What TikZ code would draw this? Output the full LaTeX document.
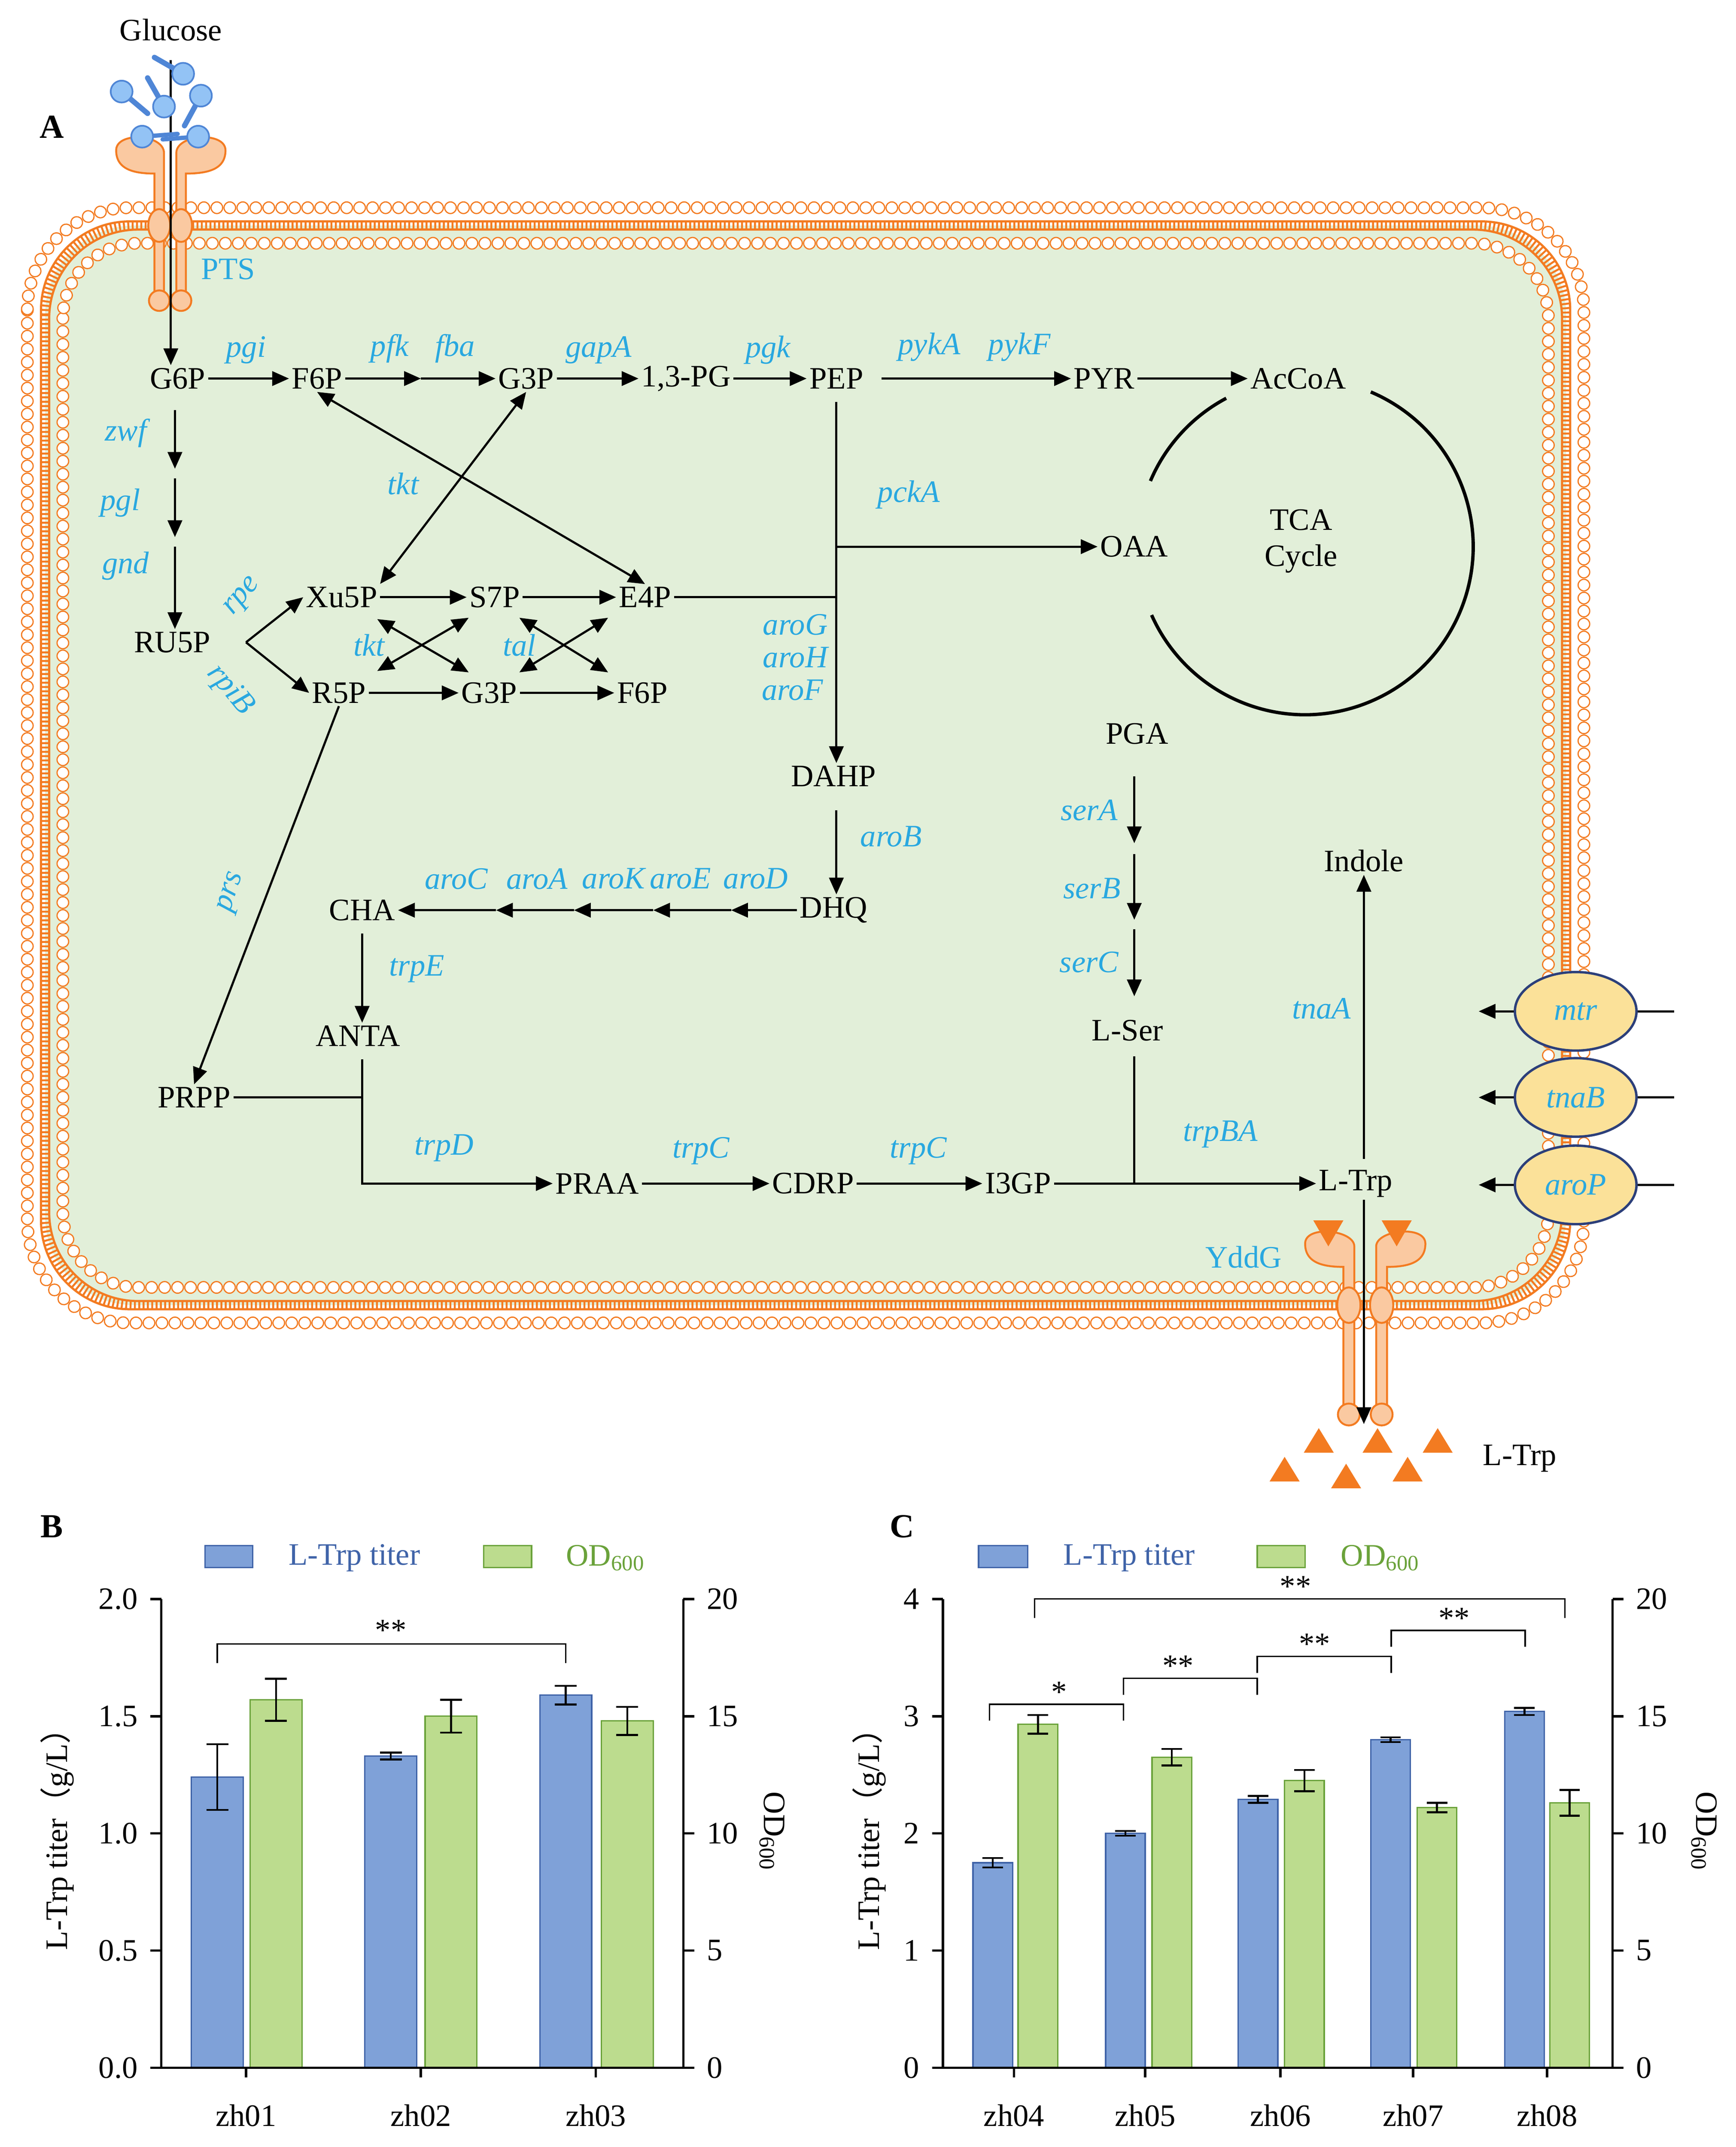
\documentclass[tikz,border=0pt]{standalone}
\usepackage{fontspec}
\setmainfont{Liberation Serif}
\newfontfamily\cjk{Noto Sans CJK SC}
\usetikzlibrary{arrows.meta,decorations.markings,shapes.geometric}
\definecolor{gb}{HTML}{29A8E0}
\definecolor{org}{HTML}{F37B21}
\definecolor{pill}{HTML}{FAC9A1}
\definecolor{cellg}{HTML}{E2EFD9}
\definecolor{barb}{HTML}{7FA1D8}
\definecolor{barbo}{HTML}{3F63A8}
\definecolor{barg}{HTML}{BCDC8E}
\definecolor{bargo}{HTML}{6AA23A}
\definecolor{ell}{HTML}{FBE199}
\definecolor{elo}{HTML}{2C3F7A}
\definecolor{glc}{HTML}{93C3F5}
\definecolor{glco}{HTML}{4F86D6}
\begin{document}
\begin{tikzpicture}[x=0.02cm,y=-0.02cm,font=\fontsize{13}{15}\selectfont,
  m/.style={inner sep=1pt},
  e/.style={text=gb,font=\fontsize{13}{15}\selectfont\itshape,inner sep=1pt},
  ar/.style={-{Triangle[length=7pt,width=6pt]},line width=0.9pt},
  dar/.style={{Triangle[length=7pt,width=6pt]}-{Triangle[length=7pt,width=6pt]},line width=0.9pt},
  ln/.style={line width=0.9pt},
  beads/.style={decorate,decoration={markings,mark=between positions 0 and 1 step 0.19cm with {\draw[org,fill=white,line width=0.5pt] (0,0) circle[radius=0.085cm];}}},
  pl/.style={draw=org,fill=pill,line width=0.8pt},
  bB/.style={fill=barb,draw=barbo,line width=0.6pt},
  bG/.style={fill=barg,draw=bargo,line width=0.6pt},
  eb/.style={line width=0.8pt},
  ax/.style={line width=1pt},
  gs/.style={draw=glco,line width=2.2pt,line cap=round},
  gc/.style={draw=glco,fill=glc,line width=0.7pt}]
\useasboundingbox (0,0) rectangle (1270,1571);
% ===== membrane =====
\fill[cellg,rounded corners=1.3cm] (33,165) rectangle (1146,955);
\draw[org,line width=0.14cm,dash pattern=on 0.8pt off 1.0pt,rounded corners=1.3cm] (33,165) rectangle (1146,955);
\draw[org,line width=0.9pt,rounded corners=1.3cm] (30,162) rectangle (1149,958);
\draw[org,line width=0.9pt,rounded corners=1.3cm] (36,168) rectangle (1143,952);
\path[beads,rounded corners=1.5cm] (20,152) rectangle (1159,968);
\path[beads,rounded corners=1.1cm] (46,178) rectangle (1133,942);
% ===== PTS transporter =====
\draw[pl] (120,222) -- (120,112) .. controls (120,98) and (85,96) .. (85,110) .. controls (85,124) and (98,127) .. (113,127) -- (113,222) -- cycle;
\draw[pl] (129,222) -- (129,112) .. controls (129,98) and (165,96) .. (165,110) .. controls (165,124) and (152,127) .. (136,127) -- (136,222) -- cycle;
\draw[pl] (116.5,165) ellipse[x radius=0.16cm,y radius=0.24cm];
\draw[pl] (132.5,165) ellipse[x radius=0.16cm,y radius=0.24cm];
\draw[pl] (116.5,220) circle[radius=0.15cm];
\draw[pl] (132.5,220) circle[radius=0.15cm];
\node[m] (glc) at (125,22) {Glucose};
\node[font=\bfseries\fontsize{14}{16}\selectfont] at (38,93) {A};
\node[m] (G6P) at (130,277) {G6P};
\draw[ar] (125,44) -- (G6P.north -| 125,0);
% glucose icons
\draw[gs] (134,54) -- (113,42);
\draw[gs] (89,67) -- (108,83);
\draw[gs] (120,78) -- (108,57);
\draw[gs] (147,70) -- (135,92);
\draw[gs,line width=1.8pt] (104,100) -- (130,98);
\draw[gs,line width=1.8pt] (145,100) -- (119,102);
\foreach \p in {(134,54),(89,67),(120,78),(147,70),(104,100),(145,100)}
  \draw[gc] \p circle[radius=0.16cm];
\node[text=gb] at (167,197) {PTS};
% ===== top line =====
\node[m] (F6P) at (232,277) {F6P};
\node[m] (G3P) at (385,277) {G3P};
\node[m] (PG) at (502,277) {1,3-PG};
\node[m] (PEP) at (612,277) {PEP};
\node[m] (PYR) at (808,277) {PYR};
\node[m] (AcCoA) at (950,277) {AcCoA};
\coordinate (fm) at (308,277);
\draw[ar] (G6P) -- (F6P);
\draw[ar] (F6P) -- (fm);
\draw[ar] (fm) -- (G3P);
\draw[ar] (G3P) -- (PG);
\draw[ar] (PG) -- (PEP);
\draw[ar] (645,277) -- (PYR);
\draw[ar] (PYR) -- (AcCoA);
\node[e] at (180,256) {pgi};
\node[e] at (285,255) {pfk};
\node[e] at (333,255) {fba};
\node[e] at (438,256) {gapA};
\node[e] at (562,256) {pgk};
\node[e] at (680,254) {pykA};
\node[e] at (746,254) {pykF};
% TCA
\draw[line width=1.4pt] (955,400) ++(67:2.46cm) arc[start angle=67,end angle=-156,radius=2.46cm];
\draw[line width=1.4pt] (955,400) ++(157:2.46cm) arc[start angle=157,end angle=118,radius=2.46cm];
\node[align=center] at (952,396) {TCA\\Cycle};
\node[m] (OAA) at (830,400) {OAA};
\node[e] at (665,362) {pckA};
\draw[ar] (612,400) -- (OAA);
% oxidative PPP
\node[m] (RU5P) at (126,470) {RU5P};
\draw[ar] (128,300) -- (128,343);
\draw[ar] (128,350) -- (128,393);
\draw[ar] (128,400) -- (RU5P.north -| 128,0);
\node[e] at (92,317) {zwf};
\node[e] at (88,368) {pgl};
\node[e] at (92,414) {gnd};
\node[m] (Xu5P) at (250,437) {Xu5P};
\node[m] (S7P) at (362,437) {S7P};
\node[m] (E4P) at (472,437) {E4P};
\node[m] (R5P) at (248,507) {R5P};
\node[m] (G3Pb) at (358,507) {G3P};
\node[m] (F6Pb) at (470,507) {F6P};
\coordinate (rb) at (180,470);
\draw[ar] (rb) -- (Xu5P.west);
\draw[ar] (rb) -- (R5P.west);
\node[e,rotate=50] at (178,437) {rpe};
\node[e,rotate=-50] at (168,505) {rpiB};
\draw[ar] (Xu5P) -- (S7P);
\draw[ar] (S7P) -- (E4P);
\draw[ar] (R5P) -- (G3Pb);
\draw[ar] (G3Pb) -- (F6Pb);
\draw[dar] (276,491) -- (343,452);
\draw[dar] (276,453) -- (343,492);
\draw[dar] (380,452) -- (445,492);
\draw[dar] (380,492) -- (445,452);
\node[e] at (270,472) {tkt};
\node[e] at (380,472) {tal};
\draw[dar] (G3P.south) -- (Xu5P.north east);
\draw[dar] (F6P.south) -- (E4P.north);
\node[e] at (295,354) {tkt};
% shikimate
\node[m] (DAHP) at (610,568) {DAHP};
\draw[ln] (612,294) -- (612,437);
\draw[ar] (612,437) -- (DAHP.north -| 612,0);
\draw[ln] (E4P.east) -- (612,437);
\node[e] at (582,457) {aroG};
\node[e] at (582,481) {aroH};
\node[e] at (580,505) {aroF};
\node[m] (DHQ) at (610,666) {DHQ};
\draw[ar] (612,593) -- (DHQ.north -| 612,0);
\node[e] at (652,612) {aroB};
\node[m] (CHA) at (265,666) {CHA};
\coordinate (c1) at (535,666);
\coordinate (c2) at (478,666);
\coordinate (c3) at (420,666);
\coordinate (c4) at (363,666);
\draw[ar] (DHQ) -- (c1);
\draw[ar] (c1) -- (c2);
\draw[ar] (c2) -- (c3);
\draw[ar] (c3) -- (c4);
\draw[ar] (c4) -- (CHA);
\node[e] at (334,643) {aroC};
\node[e] at (393,643) {aroA};
\node[e] at (449,643) {aroK};
\node[e] at (498,643) {aroE};
\node[e] at (553,643) {aroD};
\node[m] (ANTA) at (262,758) {ANTA};
\draw[ar] (265,683) -- (ANTA.north -| 265,0);
\node[e] at (305,709) {trpE};
\node[m] (PRPP) at (142,803) {PRPP};
\draw[ar] (R5P.south) -- (PRPP.north);
\node[e,rotate=72] at (170,653) {prs};
\draw[ln] (PRPP.east) -- (265,803);
\node[m] (PRAA) at (437,866) {PRAA};
\draw[ar] (265,775) -- (265,866) -- (PRAA.west);
\node[e] at (325,840) {trpD};
\node[m] (CDRP) at (595,866) {CDRP};
\node[m] (I3GP) at (745,866) {I3GP};
\node[m] (LTrp) at (992,866) {L-Trp};
\draw[ar] (PRAA) -- (CDRP);
\draw[ar] (CDRP) -- (I3GP);
\draw[ar] (I3GP) -- (LTrp);
\node[e] at (513,842) {trpC};
\node[e] at (672,842) {trpC};
\node[e] at (893,830) {trpBA};
% serine
\node[m] (PGA) at (832,537) {PGA};
\node[m] (LSer) at (825,754) {L-Ser};
\draw[ar] (830,568) -- (830,617);
\draw[ar] (830,625) -- (830,673);
\draw[ar] (830,680) -- (830,729);
\node[e] at (797,593) {serA};
\node[e] at (799,650) {serB};
\node[e] at (797,704) {serC};
\draw[ln] (830,773) -- (830,866);
\node[m] (Indole) at (998,630) {Indole};
\draw[ar] (998,848) -- (Indole.south -| 998,0);
\node[e] at (967,738) {tnaA};
% right transporters
\foreach \n/\y in {mtr/740,tnaB/803,aroP/867}{
  \coordinate (\n s) at (1225,\y);
  \coordinate (\n t) at (1082,\y);
  \draw[ar] (\n s) -- (\n t);
  \node[ellipse,draw=elo,fill=ell,line width=1pt,minimum width=1.78cm,minimum height=1.15cm,e,text=gb] (\n) at (1153,\y) {\n};
}
% YddG
\draw[pl] (991,1040) -- (991,912) .. controls (991,900) and (955,896) .. (955,910) .. controls (955,924) and (968,927) .. (983,927) -- (983,1040) -- cycle;
\draw[pl] (1007,1040) -- (1007,912) .. controls (1007,900) and (1043,896) .. (1043,910) .. controls (1043,924) and (1030,927) .. (1015,927) -- (1015,1040) -- cycle;
\draw[pl] (987,955) ellipse[x radius=0.17cm,y radius=0.26cm];
\draw[pl] (1011,955) ellipse[x radius=0.17cm,y radius=0.26cm];
\draw[pl] (987,1035) circle[radius=0.16cm];
\draw[pl] (1011,1035) circle[radius=0.16cm];
\fill[org] (961,893) -- (983,893) -- (972,912) -- cycle;
\fill[org] (1011,893) -- (1033,893) -- (1022,912) -- cycle;
\coordinate (yout) at (998,1042);
\draw[ar] (LTrp.south -| 998,0) -- (yout);
\node[text=gb] at (910,920) {YddG};
\foreach \x/\y in {965/1055,1008/1055,1052/1055,940/1076,985/1081,1030/1076}
  \fill[org] (\x-11,\y+8) -- (\x+11,\y+8) -- (\x,\y-10) -- cycle;
\node[m] at (1112,1067) {L-Trp};
% ===== Chart B =====
\node[font=\bfseries\fontsize{14}{16}\selectfont] at (38,1117) {B};
\draw[bB] (150,1131) rectangle (185,1147); \node[text=barbo,anchor=west] at (205,1140) {L-Trp titer};
\draw[bG] (354,1131) rectangle (389,1147); \node[text=bargo,anchor=west] at (408,1140) {OD$_{\mathrm{600}}$};
\foreach \x/\h/\er/\c in {140/1.24/0.14/B,183/1.57/0.09/G,267/1.33/0.015/B,311/1.50/0.07/G,395/1.59/0.04/B,440/1.48/0.06/G}{
  \draw[b\c] (\x,1513) rectangle (\x+38,{1513-\h*171.5});
  \draw[eb] (\x+19,{1513-(\h+\er)*171.5}) -- (\x+19,{1513-(\h-\er)*171.5});
  \draw[eb] (\x+11,{1513-(\h+\er)*171.5}) -- (\x+27,{1513-(\h+\er)*171.5});
  \draw[eb] (\x+11,{1513-(\h-\er)*171.5}) -- (\x+27,{1513-(\h-\er)*171.5});
}
\draw[ax] (118,1170) -- (118,1513) -- (500,1513) -- (500,1170);
\foreach \v/\l/\r in {0/0.0/0,0.5/0.5/5,1/1.0/10,1.5/1.5/15,2/2.0/20}{
  \draw[ax] (110,{1513-\v*171.5}) -- (118,{1513-\v*171.5});
  \node[anchor=east] at (107,{1513-\v*171.5}) {\l};
  \draw[ax] (500,{1513-\v*171.5}) -- (508,{1513-\v*171.5});
  \node[anchor=west] at (511,{1513-\v*171.5}) {\r};
}
\foreach \x in {180,308,436} \draw[ax] (\x,1513) -- (\x,1520);
\node at (180,1548) {zh01}; \node at (308,1548) {zh02}; \node at (436,1548) {zh03};
\draw[line width=0.6pt] (159,1217) -- (159,1203) -- (414,1203) -- (414,1217);
\node at (286,1193) {**};
\node[rotate=90] at (42,1340) {L-Trp titer{\cjk （}g/L{\cjk ）}};
\node[rotate=-90] at (565,1340) {OD$_{\mathrm{600}}$};
% ===== Chart C =====
\node[font=\bfseries\fontsize{14}{16}\selectfont] at (660,1117) {C};
\draw[bB] (716,1131) rectangle (752,1147); \node[text=barbo,anchor=west] at (772,1140) {L-Trp titer};
\draw[bG] (920,1131) rectangle (955,1147); \node[text=bargo,anchor=west] at (975,1140) {OD$_{\mathrm{600}}$};
\foreach \x/\h/\er/\c in {712/1.75/0.04/B,745/2.93/0.08/G,809/2.0/0.02/B,843/2.65/0.07/G,906/2.29/0.03/B,940/2.45/0.09/G,1003/2.8/0.02/B,1037/2.22/0.04/G,1101/3.04/0.03/B,1134/2.26/0.11/G}{
  \draw[b\c] (\x,1513) rectangle (\x+29,{1513-\h*85.75});
  \draw[eb] (\x+14.5,{1513-(\h+\er)*85.75}) -- (\x+14.5,{1513-(\h-\er)*85.75});
  \draw[eb] (\x+7,{1513-(\h+\er)*85.75}) -- (\x+22,{1513-(\h+\er)*85.75});
  \draw[eb] (\x+7,{1513-(\h-\er)*85.75}) -- (\x+22,{1513-(\h-\er)*85.75});
}
\draw[ax] (690,1170) -- (690,1513) -- (1180,1513) -- (1180,1170);
\foreach \v/\r in {0/0,1/5,2/10,3/15,4/20}{
  \draw[ax] (682,{1513-\v*85.75}) -- (690,{1513-\v*85.75});
  \node[anchor=east] at (679,{1513-\v*85.75}) {\v};
  \draw[ax] (1180,{1513-\v*85.75}) -- (1188,{1513-\v*85.75});
  \node[anchor=west] at (1191,{1513-\v*85.75}) {\r};
}
\foreach \x/\l in {742/zh04,838/zh05,937/zh06,1034/zh07,1132/zh08}{
  \draw[ax] (\x,1513) -- (\x,1520); \node at (\x,1548) {\l};}
\draw[line width=0.6pt] (724,1259) -- (724,1247) -- (822,1247) -- (822,1259); \node at (775,1238) {*};
\draw[line width=0.6pt] (822,1240) -- (822,1228) -- (920,1228) -- (920,1240); \node at (862,1219) {**};
\draw[line width=0.6pt] (920,1224) -- (920,1212) -- (1018,1212) -- (1018,1224); \node at (962,1203) {**};
\draw[line width=0.6pt] (1018,1205) -- (1018,1193) -- (1116,1193) -- (1116,1205); \node at (1064,1184) {**};
\draw[line width=0.6pt] (757,1184) -- (757,1170) -- (1145,1170) -- (1145,1184); \node at (948,1161) {**};
\node[rotate=90] at (636,1340) {L-Trp titer{\cjk （}g/L{\cjk ）}};
\node[rotate=-90] at (1247,1340) {OD$_{\mathrm{600}}$};
\end{tikzpicture}
\end{document}
